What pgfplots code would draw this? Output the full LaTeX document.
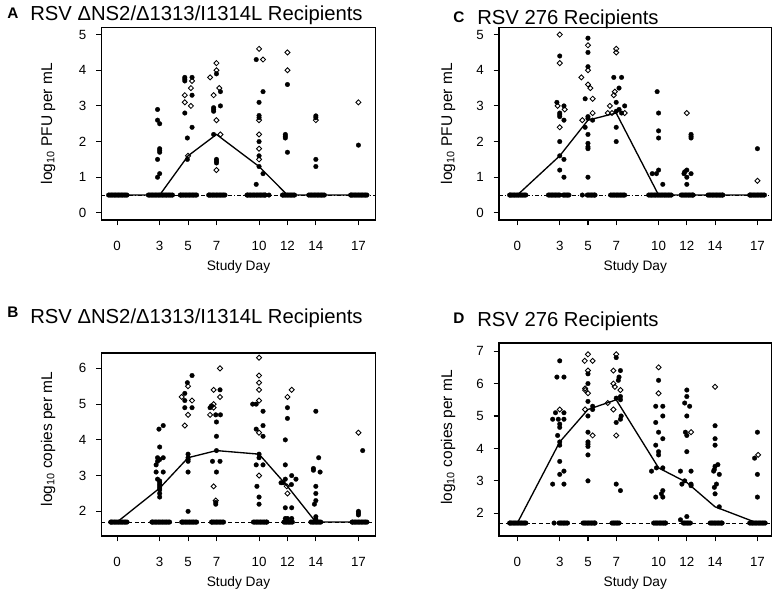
\documentclass[border=0pt]{standalone}
\usepackage{pgfplots}
\pgfplotsset{compat=1.18}
\usepackage{fontspec}
\setmainfont{Liberation Sans}
\begin{document}
\begin{tikzpicture}
\pgfplotsset{
  rsv/.style={
    scale only axis,
    anchor=south west,
    axis line style={line width=0.8pt},
    xtick={0,3,5,7,10,12,14,17},
    tick align=outside,
    xtick pos=left, ytick pos=left,
    major tick length=4pt,
    every tick/.style={black, line width=0.8pt},
    tick label style={font=\fontsize{10}{12}\selectfont, inner sep=0pt},
    xticklabel style={anchor=base, yshift=-19pt},
    yticklabel style={anchor=east, xshift=-7.2pt},
    /pgf/number format/assume math mode=true,
    xlabel={Study Day},
    xlabel style={font=\fontsize{10.3}{12}\selectfont, at={(axis description cs:0.5,0)}, anchor=base, yshift=-38pt},
  },
  filled/.style={only marks, mark=*, mark size=1.75pt, mark options={fill=black, draw=black, line width=0.2pt}},
  open/.style={only marks, mark=square, mark size=1.35pt, mark options={rotate=45, line width=0.65pt, draw=black}},
  med/.style={black, line width=1pt, no marks},
  lodA/.style={black, line width=0.7pt, no marks, dash pattern=on 3pt off 1.5pt on 0.8pt off 1.5pt},
  lodB/.style={black, line width=0.7pt, no marks, dash pattern=on 3pt off 2pt},
}
\path[use as bounding box] (0,0) rectangle (585.75pt,447.75pt);

% ---------- Titles ----------
\node[anchor=base west, inner sep=0pt, font=\bfseries\fontsize{11.5}{13}\selectfont] at (5.25pt,433.5pt) {A};
\node[anchor=base west, inner sep=0pt, font=\fontsize{15.2}{17}\selectfont] at (22.5pt,432.2pt) {RSV ΔNS2/Δ1313/I1314L Recipients};
\node[anchor=base west, inner sep=0pt, font=\bfseries\fontsize{11.5}{13}\selectfont] at (339.75pt,430.5pt) {C};
\node[anchor=base west, inner sep=0pt, font=\fontsize{15.2}{17}\selectfont] at (357.75pt,429pt) {RSV 276 Recipients};
\node[anchor=base west, inner sep=0pt, font=\bfseries\fontsize{11.5}{13}\selectfont] at (5.25pt,209.5pt) {B};
\node[anchor=base west, inner sep=0pt, font=\fontsize{15.2}{17}\selectfont] at (22.5pt,205.25pt) {RSV ΔNS2/Δ1313/I1314L Recipients};
\node[anchor=base west, inner sep=0pt, font=\bfseries\fontsize{11.5}{13}\selectfont] at (339.75pt,205pt) {D};
\node[anchor=base west, inner sep=0pt, font=\fontsize{15.2}{17}\selectfont] at (357.75pt,203.25pt) {RSV 276 Recipients};

% ---------- Panel A ----------
\begin{axis}[rsv, at={(76.1pt,282.75pt)}, width=205.5pt, height=144.4pt,
  xmin=-1.1, xmax=18.2, ymin=-0.2, ymax=5.2, ytick={0,1,2,3,4,5},
  ylabel={log\textsubscript{10} PFU per mL},
  ylabel style={font=\fontsize{11.6}{13}\selectfont, at={(axis description cs:-0.195,0.5)}, anchor=center, rotate=0}]
\addplot[filled] coordinates {
(-0.6,0.5)(-0.5,0.5)(-0.4,0.5)(-0.3,0.5)(-0.2,0.5)(-0.1,0.5)(0,0.5)(0.1,0.5)(0.2,0.5)(0.3,0.5)(0.4,0.5)(0.5,0.5)(0.6,0.5)(0.7,0.5)
(2.2,0.5)(2.3,0.5)(2.4,0.5)(2.5,0.5)(2.6,0.5)(2.7,0.5)(2.8,0.5)(2.9,0.5)(3.0,0.5)(3.1,0.5)(3.2,0.5)(3.3,0.5)(3.4,0.5)(3.5,0.5)(3.6,0.5)(3.7,0.5)(3.8,0.5)(3.9,0.5)
(4.45,0.5)(4.5,0.5)(4.6,0.5)(4.7,0.5)(4.8,0.5)(4.9,0.5)(5.0,0.5)(5.1,0.5)(5.2,0.5)(5.3,0.5)(5.4,0.5)(5.5,0.5)(5.6,0.5)
(6.45,0.5)(6.5,0.5)(6.6,0.5)(6.7,0.5)(6.8,0.5)(6.9,0.5)(7.0,0.5)(7.1,0.5)(7.2,0.5)(7.3,0.5)(7.4,0.5)(7.5,0.5)(7.6,0.5)
(9.15,0.5)(9.2,0.5)(9.3,0.5)(9.4,0.5)(9.5,0.5)(9.6,0.5)(9.7,0.5)(9.8,0.5)(9.9,0.5)(10.0,0.5)(10.1,0.5)(10.2,0.5)(10.3,0.5)(10.4,0.5)(10.45,0.5)(10.7,0.5)
(11.65,0.5)(11.7,0.5)(11.8,0.5)(11.9,0.5)(12.0,0.5)(12.1,0.5)(12.2,0.5)(12.3,0.5)(12.4,0.5)(12.5,0.5)
(13.5,0.5)(13.6,0.5)(13.7,0.5)(13.8,0.5)(13.9,0.5)(14.0,0.5)(14.1,0.5)(14.2,0.5)(14.3,0.5)(14.4,0.5)(14.5,0.5)(14.6,0.5)
(16.45,0.5)(16.5,0.5)(16.6,0.5)(16.7,0.5)(16.8,0.5)(16.9,0.5)(17.0,0.5)(17.1,0.5)(17.2,0.5)(17.3,0.5)(17.4,0.5)(17.5,0.5)(17.6,0.5)
};
\addplot[filled] coordinates {
(2.85,2.9)(2.85,2.6)(3,2.5)(3,1.8)(3,1.75)(3,1.7)(2.85,1.5)(3,1.1)(2.85,1.0)
(4.77,3.8)(4.77,3.75)(4.77,3.7)(5.28,3.8)(5.28,3.3)(4.77,2.8)(5.28,2.4)(4.95,2.1)(4.95,1.5)
(7,3.9)(7.28,3.4)(7.28,3.0)(6.8,2.95)(6.8,2.9)(6.8,2.85)(6.8,2.2)(7,1.5)(7,1.45)(7,1.4)
(9.8,4.3)(10.28,3.4)(10,3.1)(10,2.73)(10,2.67)(10,2.0)(10,1.6)(10,1.3)(10.28,1.1)(9.8,0.8)
(12,3.6)(11.85,2.2)(11.85,2.15)(11.85,2.1)(12,1.7)
(14,2.72)(14,2.67)(14,1.5)(14,1.3)
(17,1.9)
};
\addplot[open] coordinates {
(5.28,3.7)(5.2,3.5)(4.77,3.3)(4.77,3.1)(5.2,3.0)(5,1.6)
(7,4.2)(7,4.0)(6.55,3.8)(7.2,3.5)(6.8,3.3)(7,2.6)(7.28,2.2)(7,1.2)
(10,4.6)(10.28,4.3)(10,2.6)(10,2.2)(10,1.8)(10,1.5)
(12,4.5)(12,4.0)
(14,2.6)
(17,3.1)
};
\addplot[lodA] coordinates {(-1.1,0.5)(18.2,0.5)};
\addplot[med] coordinates {(0,0.5)(3,0.5)(5,1.6)(7,2.2)(10,1.3)(12,0.5)(14,0.5)(17,0.5)};
\end{axis}

% ---------- Panel C ----------
\begin{axis}[rsv, at={(374.25pt,282.75pt)}, width=204.4pt, height=144.4pt,
  xmin=-1.3, xmax=18.0, ymin=-0.2, ymax=5.2, ytick={0,1,2,3,4,5},
  ylabel={log\textsubscript{10} PFU per mL},
  ylabel style={font=\fontsize{11.6}{13}\selectfont, at={(axis description cs:-0.187,0.5)}, anchor=center, rotate=0}]
\addplot[filled] coordinates {
(-0.55,0.5)(-0.5,0.5)(-0.4,0.5)(-0.3,0.5)(-0.2,0.5)(-0.1,0.5)(0,0.5)(0.1,0.5)(0.2,0.5)(0.3,0.5)(0.4,0.5)(0.5,0.5)(0.6,0.5)
(2.2,0.5)(2.3,0.5)(2.4,0.5)(2.5,0.5)(2.6,0.5)(2.7,0.5)(2.8,0.5)(2.9,0.5)(3.0,0.5)(3.25,0.5)(3.35,0.5)(3.45,0.5)(3.55,0.5)(3.65,0.5)
(4.6,0.5)(4.95,0.5)(5.05,0.5)(5.15,0.5)(5.25,0.5)(5.35,0.5)(5.45,0.5)(5.5,0.5)
(6.6,0.5)(6.7,0.5)(6.8,0.5)(6.9,0.5)(7.0,0.5)(7.1,0.5)(7.2,0.5)(7.3,0.5)(7.4,0.5)(7.5,0.5)(7.6,0.5)
(9.3,0.5)(9.4,0.5)(9.5,0.5)(9.6,0.5)(9.7,0.5)(9.8,0.5)(9.9,0.5)(10.0,0.5)(10.1,0.5)(10.2,0.5)(10.3,0.5)(10.4,0.5)(10.5,0.5)(10.6,0.5)(10.7,0.5)(10.8,0.5)(10.9,0.5)
(11.6,0.5)(11.7,0.5)(11.8,0.5)(11.9,0.5)(12.0,0.5)(12.1,0.5)(12.2,0.5)(12.3,0.5)(12.4,0.5)(12.45,0.5)
(13.5,0.5)(13.6,0.5)(13.7,0.5)(13.8,0.5)(13.9,0.5)(14.0,0.5)(14.1,0.5)(14.2,0.5)(14.3,0.5)(14.4,0.5)(14.5,0.5)(14.55,0.5)
(16.45,0.5)(16.5,0.5)(16.6,0.5)(16.7,0.5)(16.8,0.5)(16.9,0.5)(17.0,0.5)(17.1,0.5)(17.2,0.5)(17.3,0.5)(17.4,0.5)(17.5,0.5)
};
\addplot[filled] coordinates {
(3,4.4)(2.8,3.1)(3.3,3.0)(3,2.8)(3,2.75)(3,2.7)(3.3,2.6)(3,2.0)(3,1.6)(3.3,1.5)(3,1.2)(3.3,1.0)
(5,4.9)(5,4.5)(5,4.1)(4.8,3.2)(5,2.7)(5,2.65)(5.33,2.6)(4.8,2.4)(5,2.2)(5,1.95)(5,1.85)(5,1.8)(5,1.0)
(6.83,3.8)(7.38,3.8)(7.2,3.5)(7,3.1)(7.6,3.0)(7.2,2.9)(7,2.85)(7.38,2.8)(7,2.4)(7,2.0)
(9.9,3.4)(10,2.8)(10,2.3)(10,2.1)(10,1.2)(9.55,1.1)(9.85,1.1)(10.3,0.8)
(12.3,2.2)(12.3,2.15)(12.3,2.1)(12,1.2)(11.85,1.15)(11.8,1.1)(12.3,1.1)(12,1.0)(12,0.8)
(17,1.8)
};
\addplot[open] coordinates {
(3,5.0)(3,4.2)(2.85,3.0)(3.35,2.9)(3,2.4)
(5,4.7)(5,4.0)(4.53,3.8)(5,3.6)(5.17,3.5)(5.33,3.2)(4.6,2.6)(5.33,2.8)
(7,4.6)(7,4.5)(6.9,3.4)(6.83,3.3)(6.55,3.0)(6.4,2.8)(6.7,2.8)(7.6,2.8)
(12,2.8)
(17,0.9)
};
\addplot[lodA] coordinates {(-1.3,0.5)(18.0,0.5)};
\addplot[med] coordinates {(0,0.5)(3,1.6)(5,2.6)(7,2.8)(10,0.5)(12,0.5)(14,0.5)(17,0.5)};
\end{axis}

% ---------- Panel B ----------
\begin{axis}[rsv, at={(76.1pt,45.75pt)}, width=205.5pt, height=137.25pt,
  xmin=-1.1, xmax=18.2, ymin=1.31, ymax=6.43, ytick={2,3,4,5,6},
  ylabel={log\textsubscript{10} copies per mL},
  ylabel style={font=\fontsize{11.6}{13}\selectfont, at={(axis description cs:-0.195,0.53)}, anchor=center, rotate=0}]
\addplot[filled] coordinates {
(-0.45,1.7)(-0.4,1.7)(-0.3,1.7)(-0.2,1.7)(-0.1,1.7)(0,1.7)(0.1,1.7)(0.2,1.7)(0.3,1.7)(0.4,1.7)(0.5,1.7)(0.6,1.7)(0.7,1.7)
(2.45,1.7)(2.5,1.7)(2.6,1.7)(2.7,1.7)(2.8,1.7)(2.9,1.7)(3.0,1.7)(3.1,1.7)(3.2,1.7)(3.3,1.7)(3.4,1.7)(3.5,1.7)(3.6,1.7)(3.7,1.7)
(4.55,1.7)(4.6,1.7)(4.7,1.7)(4.8,1.7)(4.9,1.7)(5.0,1.7)(5.1,1.7)(5.2,1.7)(5.3,1.7)(5.4,1.7)(5.5,1.7)(5.6,1.7)
(6.65,1.7)(6.7,1.7)(6.8,1.7)(6.9,1.7)(7.0,1.7)(7.1,1.7)(7.2,1.7)(7.3,1.7)(7.4,1.7)(7.5,1.7)
(9.6,1.7)(9.7,1.7)(9.8,1.7)(9.9,1.7)(10.0,1.7)(10.1,1.7)(10.2,1.7)(10.3,1.7)(10.4,1.7)(10.5,1.7)(10.55,1.7)
(11.75,1.7)(11.85,1.7)(11.95,1.7)(12.05,1.7)(12.15,1.7)(12.25,1.7)(12.35,1.7)
(13.65,1.7)(13.75,1.7)(13.85,1.7)(13.95,1.7)(14.05,1.7)(14.15,1.7)(14.25,1.7)(14.35,1.7)
(16.55,1.7)(16.6,1.7)(16.7,1.7)(16.8,1.7)(16.9,1.7)(17.0,1.7)(17.1,1.7)(17.2,1.7)(17.3,1.7)(17.4,1.7)(17.5,1.7)(17.6,1.7)
};
\addplot[filled] coordinates {
(3.25,4.4)(2.95,4.3)(3,3.8)(2.85,3.5)(3.25,3.5)(3,3.45)(2.85,3.4)(2.75,3.3)(2.75,3.1)(3.25,3.1)(2.85,2.9)(3,2.85)(3,2.8)(3,2.75)(3,2.7)(3,2.65)(3,2.6)(3,2.5)(3,2.4)
(5.28,5.8)(4.95,5.6)(4.77,5.3)(4.77,5.1)(4.77,4.9)(5.28,4.9)(5,3.6)(5,3.5)(5,3.45)(5,3.4)(5,3.1)(5,2.0)
(7.25,5.4)(6.55,4.9)(6.65,4.95)(6.95,4.7)(7.28,4.7)(7,4.5)(7,4.1)(7,3.7)(6.72,3.4)(7.25,3.4)(7,3.1)(6.95,2.25)(6.95,2.2)
(9.55,5.0)(9.8,5.0)(10.28,4.8)(10.28,4.4)(9.8,4.3)(10.28,4.1)(10,3.6)(10,3.5)(9.8,3.3)(10.28,3.3)(9.85,2.7)(10,2.4)(10,2.2)
(12,4.9)(12,4.6)(11.85,4.0)(11.85,3.3)(12.3,3.0)(12.6,2.9)(11.85,2.9)(11.55,2.8)(11.7,2.8)(12.28,2.75)(11.85,2.1)(12.3,2.1)(11.85,1.8)(12,1.8)(12.3,1.8)(11.9,1.75)
(14,4.8)(14.2,3.5)(13.83,3.2)(13.83,3.15)(14.3,3.1)(14,2.7)(14,2.5)(14,2.3)(13.9,2.2)(14,1.85)(14,1.78)
(17.3,3.7)(17,2.0)(17,1.95)(17,1.9)
};
\addplot[open] coordinates {
(5,5.5)(4.55,5.2)(5.28,5.1)(5,4.7)(4.77,4.4)
(7.25,6.0)(6.8,5.4)(7.25,5.2)(6.8,5.0)(6.8,4.9)(6.55,4.7)(6.8,2.7)(6.95,2.3)
(10,6.3)(10,5.8)(10,5.6)(10,5.4)(10,5.1)(10,4.2)(10,3.0)
(12.3,5.4)(12,5.2)(11.95,2.7)(12,2.5)
(17,4.2)
};
\addplot[lodB] coordinates {(-1.1,1.7)(18.2,1.7)};
\addplot[med] coordinates {(0,1.7)(3,2.65)(5,3.5)(7,3.7)(10,3.6)(12,2.7)(14,1.7)(17,1.7)};
\end{axis}

% ---------- Panel D ----------
\begin{axis}[rsv, at={(374.25pt,45.75pt)}, width=204.4pt, height=144.75pt,
  xmin=-1.3, xmax=18.0, ymin=1.3, ymax=7.25, ytick={2,3,4,5,6,7},
  ylabel={log\textsubscript{10} copies per mL},
  ylabel style={font=\fontsize{11.6}{13}\selectfont, at={(axis description cs:-0.187,0.51)}, anchor=center, rotate=0}]
\addplot[filled] coordinates {
(-0.55,1.7)(-0.5,1.7)(-0.4,1.7)(-0.3,1.7)(-0.2,1.7)(-0.1,1.7)(0,1.7)(0.1,1.7)(0.2,1.7)(0.3,1.7)(0.4,1.7)(0.5,1.7)(0.6,1.7)
(2.6,1.7)(2.95,1.7)(3.05,1.7)(3.15,1.7)(3.25,1.7)(3.35,1.7)(3.45,1.7)(3.55,1.7)
(4.65,1.7)(4.75,1.7)(4.85,1.7)(4.95,1.7)(5.05,1.7)(5.15,1.7)(5.25,1.7)(5.35,1.7)(5.45,1.7)(5.5,1.7)
(6.7,1.7)(6.8,1.7)(6.9,1.7)(7.0,1.7)(7.1,1.7)(7.2,1.7)
(9.65,1.7)(9.75,1.7)(9.85,1.7)(9.95,1.7)(10.05,1.7)(10.15,1.7)(10.25,1.7)(10.35,1.7)(10.45,1.7)(10.5,1.7)
(11.75,1.7)(11.85,1.7)(11.95,1.7)(12.05,1.7)(12.15,1.7)(12.25,1.7)
(13.65,1.7)(13.75,1.7)(13.85,1.7)(13.95,1.7)(14.05,1.7)(14.15,1.7)(14.25,1.7)(14.35,1.7)(14.45,1.7)(14.5,1.7)
(16.45,1.7)(16.55,1.7)(16.65,1.7)(16.75,1.7)(16.85,1.7)(16.95,1.7)(17.05,1.7)(17.15,1.7)(17.25,1.7)(17.35,1.7)(17.45,1.7)(17.55,1.7)
};
\addplot[filled] coordinates {
(3,6.7)(2.8,6.2)(3.3,6.2)(2.7,5.1)(3.3,5.1)(2.5,4.9)(2.9,4.9)(3.3,4.9)(3,4.75)(3,4.65)(2.85,4.4)(3,4.2)(3,4.1)(3,3.6)(3.3,3.3)(3,3.2)(2.5,2.9)(3.3,2.9)
(5,6.3)(5,6.0)(5,5.45)(5.33,5.3)(5.33,5.2)(5,5.0)(5,4.5)(5,4.2)(5,4.13)(5,4.06)(5,3.8)(5,3.0)
(7,6.8)(7.3,6.4)(7.2,6.2)(7.15,6.1)(7.3,5.6)(7,5.55)(7.3,5.5)(7.35,5.0)(7.3,4.9)(7,4.8)(7,2.9)(7.3,2.7)
(10,6.1)(9.8,5.3)(10.3,5.3)(10.3,5.0)(9.8,4.8)(10,4.5)(10.3,4.3)(9.8,4.1)(10,3.9)(10,3.8)(9.85,3.4)(10.3,3.4)(9.5,3.3)(10.3,2.7)(10.2,2.6)(9.8,2.5)(10.3,2.5)
(12,5.8)(12,5.6)(11.85,5.4)(12.2,5.3)(12,5.0)(11.9,4.5)(12,4.4)(12,3.9)(11.55,3.3)(12.3,3.3)(11.85,3.0)(11.65,2.9)(12.3,2.9)(12.3,2.85)(12,1.9)(11.55,1.8)
(14,4.7)(14,4.3)(14,4.1)(14.2,3.5)(14,3.45)(13.95,3.35)(13.9,3.3)(14.3,3.2)(14.1,2.9)(13.95,2.8)(14,2.6)(14.3,2.2)
(17,4.5)(16.8,3.7)(17,3.2)(17,2.5)
};
\addplot[open] coordinates {
(3,5.2)
(5,6.9)(4.77,6.7)(5.33,6.7)(5,6.4)(4.8,5.85)(4.8,5.8)(5,5.7)(4.8,5.2)(5.33,4.4)
(7,6.9)(6.8,6.4)(6.8,6.0)(6.9,5.9)(7.3,5.8)(6.4,5.4)(6.8,5.2)(7,4.4)
(10,6.5)(10,5.7)
(12.3,4.5)
(14,5.9)
(17.05,3.8)
};
\addplot[lodB] coordinates {(-1.3,1.7)(18.0,1.7)};
\addplot[med] coordinates {(0,1.7)(3,4.2)(5,5.2)(7,5.5)(10,3.4)(12,2.95)(14,2.2)(17,1.7)};
\end{axis}
\end{tikzpicture}
\end{document}
